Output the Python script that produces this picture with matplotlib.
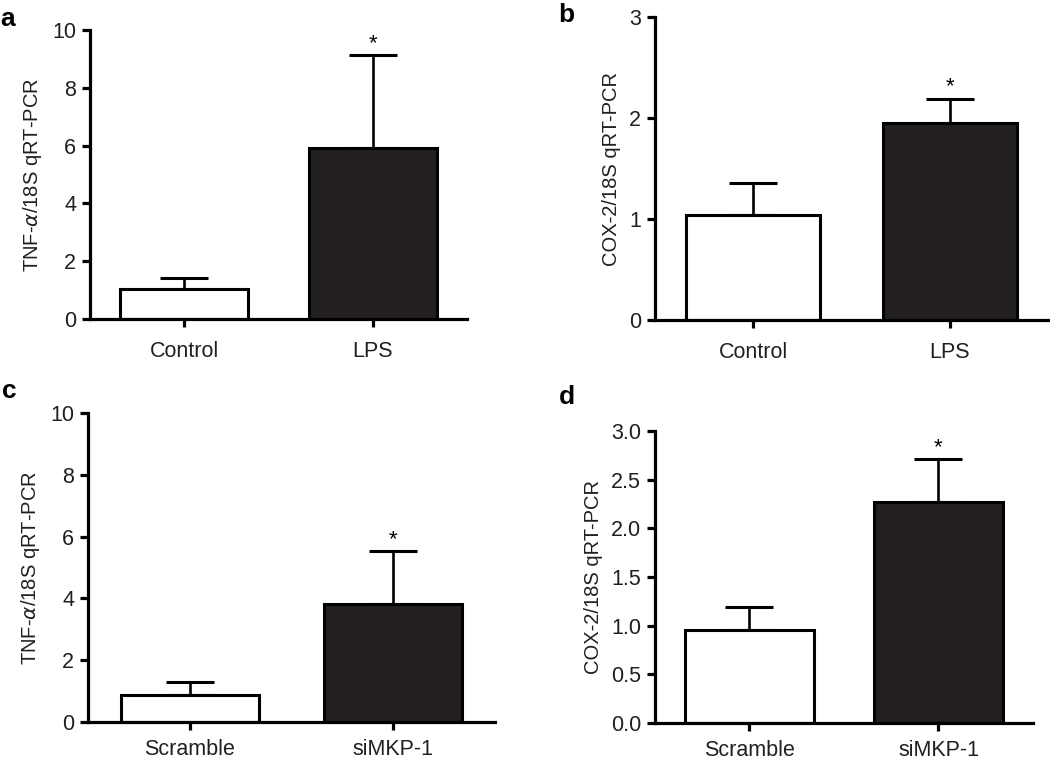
import matplotlib
matplotlib.use('Agg')
import matplotlib.pyplot as plt
from matplotlib import rc

rc('font', family='Liberation Sans', size=15.5)

# =============================================================================
# Data
# =============================================================================
groups_ab = ['Control', 'LPS']
groups_cd = ['Scramble', 'siMKP-1']

tnf_lps = [1.04, 5.92]
tnf_lps_err = [0.38, 3.21]
cox_lps = [1.04, 1.95]
cox_lps_err = [0.32, 0.24]
tnf_si = [0.88, 3.82]
tnf_si_err = [0.40, 1.70]
cox_si = [0.96, 2.27]
cox_si_err = [0.23, 0.44]

tnf_label = r'TNF-$\alpha$/18S qRT-PCR'
cox_label = 'COX-2/18S qRT-PCR'

fig = plt.figure(figsize=(10.5, 7.63), dpi=100)

# [left, bottom, width, height] per panel
pos = {'a': [0.0857, 0.5819, 0.3591, 0.3788],
       'b': [0.6238, 0.5806, 0.3743, 0.3971],
       'c': [0.0838, 0.0537, 0.3876, 0.4050],
       'd': [0.6238, 0.0524, 0.3600, 0.3827]}

panels = [('a', groups_ab, tnf_lps, tnf_lps_err, tnf_label, 10, [0, 2, 4, 6, 8, 10], '%d', 10),
          ('b', groups_ab, cox_lps, cox_lps_err, cox_label, 3, [0, 1, 2, 3], '%d', 10),
          ('c', groups_cd, tnf_si, tnf_si_err, tnf_label, 10, [0, 2, 4, 6, 8, 10], '%d', 6),
          ('d', groups_cd, cox_si, cox_si_err, cox_label, 3, [0, 0.5, 1, 1.5, 2, 2.5, 3], '%.1f', 6)]

for key, grp, vals, errs, ylab, ymax, yt, fmt, xpad in panels:
    ax = fig.add_axes(pos[key])
    x = list(range(len(grp)))
    ax.bar(x, vals, width=0.68, color=['white', '#231f20'], edgecolor='black',
           linewidth=2.2, zorder=2)
    ax.errorbar(x, vals, yerr=[[0, 0], errs], fmt='none', ecolor='black',
                elinewidth=1.9, capsize=17, capthick=2.2, zorder=1)
    # significance star over the treated bar
    ax.annotate('*', xy=(1, vals[1] + errs[1]), xytext=(0, 1), textcoords='offset points',
                ha='center', va='bottom', fontsize=16)
    ax.set_xlim(-0.5, 1.5)
    ax.set_ylim(0, ymax)
    ax.set_yticks(yt)
    ax.set_yticklabels([fmt % t for t in yt])
    ax.set_xticks(x)
    ax.set_xticklabels(grp)
    ax.set_ylabel(ylab, fontsize=14.5, color='#231f20', labelpad=6)
    for s in ['top', 'right']:
        ax.spines[s].set_visible(False)
    for s in ['left', 'bottom']:
        ax.spines[s].set_linewidth(2.3)
    ax.tick_params(direction='out', width=2.3, length=6, colors='black',
                   labelcolor='#231f20', pad=4)
    ax.tick_params(axis='x', pad=xpad)
    ax.patch.set_alpha(0)

fig.text(0.0, 0.975, 'a', fontsize=19, fontweight='bold', va='center', ha='left')
fig.text(0.532, 0.98, 'b', fontsize=19, fontweight='bold', va='center', ha='left')
fig.text(0.002, 0.487, 'c', fontsize=19, fontweight='bold', va='center', ha='left')
fig.text(0.532, 0.48, 'd', fontsize=19, fontweight='bold', va='center', ha='left')

plt.savefig('out.png', dpi=100)
